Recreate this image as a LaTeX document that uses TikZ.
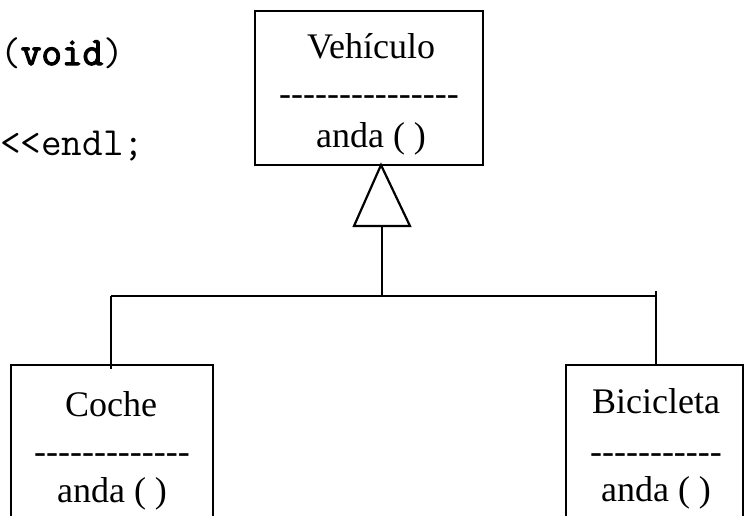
\documentclass[tikz,border=0pt]{standalone}
\usepackage{fontspec}
\setmainfont{Liberation Serif}[Ligatures=TeXOff]
\setmonofont{Latin Modern Mono}[BoldFont={Latin Modern Mono},BoldFeatures={FakeBold=3}]
\begin{document}
\begin{tikzpicture}[x=1pt,y=-1pt,
  classbox/.style={draw=black,line width=2.6pt,fill=none,inner sep=0pt},
  lbl/.style={font=\fontsize{36}{40}\selectfont,inner sep=0pt,anchor=base},
  code/.style={font=\ttfamily\fontsize{40}{44}\selectfont,inner sep=0pt,anchor=base west},
  conn/.style={line width=2.2pt}]
\useasboundingbox (0,0) rectangle (744,515);
\begin{scope}
\clip (0,0) rectangle (744,515);
% code fragments
\node[code] (c1) at (0,65) {(\textbf{void})};
\node[code] (c2) at (0,155) {<<endl;};
% class boxes
\node[classbox,minimum width=228pt,minimum height=154pt] (veh) at (369,88) {};
\node[classbox,minimum width=202pt,minimum height=170pt] (coche) at (112,450) {};
\node[classbox,minimum width=177pt,minimum height=170pt] (bici) at (654.5,450) {};
% texts
\node[lbl] (vt) at (371,58) {Vehículo};
\node[lbl] (vd) at (369,105) {---------------};
\node[lbl] (va) at (371,147) {anda ( )};
\node[lbl] (ct) at (111,416) {Coche};
\node[lbl] (cd) at (112,463) {-------------};
\node[lbl] (ca) at (112,502) {anda ( )};
\node[lbl] (bt) at (656,413) {Bicicleta};
\node[lbl] (bd) at (656,463) {-----------};
\node[lbl] (ba) at (656,501) {anda ( )};
% inheritance connector
\coordinate (apex) at (381,165);
\coordinate (tl) at (354,226);
\coordinate (tr) at (410,226);
\coordinate (tb) at (382,226);
\coordinate (jn) at (382,296);
\coordinate (jl) at (111,296);
\coordinate (jr) at (656,296);
\coordinate (jrt) at (656,291);
\coordinate (cin) at (111,369);
\draw[conn,line join=miter] (apex) -- (tl) -- (tr) -- cycle;
\draw[conn] (tb) -- (jn);
\draw[conn] (jl) -- (jr);
\draw[conn] (jl) -- (cin);
\draw[conn] (jrt) -- (bici.north -| jrt);
\end{scope}
\end{tikzpicture}
\end{document}
